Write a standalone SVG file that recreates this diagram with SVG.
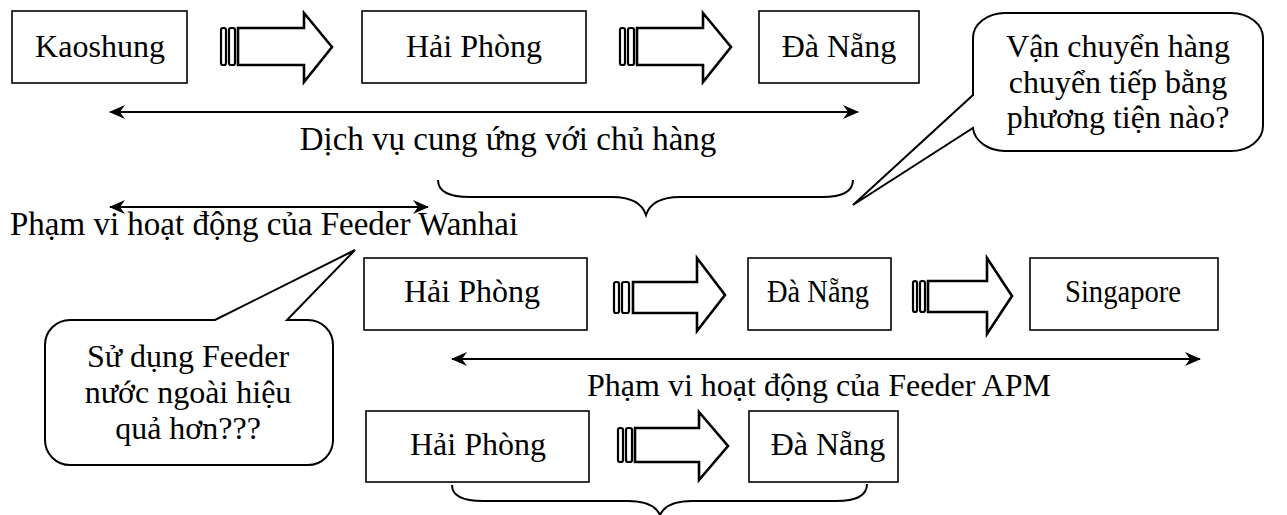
<svg xmlns="http://www.w3.org/2000/svg" width="1287" height="515" viewBox="0 0 1287 515">
  <defs>
    <style>
      .box { fill: #fff; stroke: #000; stroke-width: 1.6; }
      .lbl { font-family: "Liberation Serif", "Times New Roman", serif; font-size: 32px; fill: #000; }
      .big { font-size: 33px; }
      .narrow { font-size: 31px; }
      .mid { text-anchor: middle; }
      .stripe { fill: #fff; stroke: #000; stroke-width: 2.2; }
      .arrow { fill: #fff; stroke: #000; stroke-width: 2.6; stroke-linejoin: miter; }
      .span { fill: none; stroke: #000; stroke-width: 2; marker-start: url(#tipStart); marker-end: url(#tipEnd); }
      .brace { fill: none; stroke: #000; stroke-width: 2; }
      .callout { fill: #fff; stroke: #000; stroke-width: 2; stroke-linejoin: miter; }
    </style>
    <marker id="tipEnd" viewBox="0 0 16 14" refX="15" refY="7" markerWidth="16" markerHeight="14" markerUnits="userSpaceOnUse" orient="auto">
      <path d="M0,0 L16,7 L0,14 L5,7 Z" fill="#000"/>
    </marker>
    <marker id="tipStart" viewBox="0 0 16 14" refX="1" refY="7" markerWidth="16" markerHeight="14" markerUnits="userSpaceOnUse" orient="auto">
      <path d="M16,0 L0,7 L16,14 L11,7 Z" fill="#000"/>
    </marker>
  </defs>

  <!-- top row: Kaoshung -> Hai Phong -> Da Nang -->
  <g id="node-kaoshung">
    <rect class="box" x="12" y="11" width="175" height="72"/>
    <text class="lbl mid" x="100" y="57">Kaoshung</text>
  </g>
  <g id="node-haiphong-1">
    <rect class="box" x="362" y="11" width="224" height="72"/>
    <text class="lbl mid" x="474" y="57">Hải Phòng</text>
  </g>
  <g id="node-danang-1">
    <rect class="box" x="759" y="11" width="160" height="72"/>
    <text class="lbl mid" x="839" y="57">Đà Nẵng</text>
  </g>

  <!-- middle row: Hai Phong -> Da Nang -> Singapore -->
  <g id="node-haiphong-2">
    <rect class="box" x="364" y="258" width="223" height="72"/>
    <text class="lbl mid" x="472" y="302">Hải Phòng</text>
  </g>
  <g id="node-danang-2">
    <rect class="box" x="748" y="258" width="143" height="72"/>
    <text class="lbl narrow mid" x="818" y="302" textLength="102" lengthAdjust="spacingAndGlyphs">Đà Nẵng</text>
  </g>
  <g id="node-singapore">
    <rect class="box" x="1030" y="258" width="188" height="72"/>
    <text class="lbl narrow mid" x="1123" y="302" textLength="116" lengthAdjust="spacingAndGlyphs">Singapore</text>
  </g>

  <!-- bottom row: Hai Phong -> Da Nang -->
  <g id="node-haiphong-3">
    <rect class="box" x="366" y="411" width="223" height="71"/>
    <text class="lbl mid" x="478" y="455">Hải Phòng</text>
  </g>
  <g id="node-danang-3">
    <rect class="box" x="749" y="411" width="149" height="71"/>
    <text class="lbl mid" x="828" y="455">Đà Nẵng</text>
  </g>

  <!-- callouts -->
  <g id="callout-transfer">
    <path class="callout" d="M1005,13 L1231,13 A32,25 0 0 1 1263,38 L1263,126 A32,25 0 0 1 1231,151 L1005,151 A32,25 0 0 1 973,128 L853,205 L973,95 L973,38 A32,25 0 0 1 1005,13 Z"/>
    <text class="lbl mid" x="1118" y="57">Vận chuyển hàng</text>
    <text class="lbl mid" x="1118" y="93">chuyển tiếp bằng</text>
    <text class="lbl mid" x="1118" y="128">phương tiện nào?</text>
  </g>
  <g id="callout-foreign">
    <path class="callout" d="M70,320 L215,320 L355,250 L287,320 L308,320 A25,25 0 0 1 333,345 L333,440 A25,25 0 0 1 308,465 L70,465 A25,25 0 0 1 45,440 L45,345 A25,25 0 0 1 70,320 Z"/>
    <text class="lbl mid" x="188" y="367">Sử dụng Feeder</text>
    <text class="lbl mid" x="188" y="403">nước ngoài hiệu</text>
    <text class="lbl mid" x="188" y="439">quả hơn???</text>
  </g>

  <!-- free labels -->
  <g id="label-service">
    <text class="lbl big mid" x="508" y="150">Dịch vụ cung ứng với chủ hàng</text>
  </g>
  <g id="label-wanhai">
    <text class="lbl big" x="10" y="235">Phạm vi hoạt động của Feeder Wanhai</text>
  </g>
  <g id="label-apm">
    <text class="lbl" x="587" y="396">Phạm vi hoạt động của Feeder APM</text>
  </g>

  <!-- connectors: striped block arrows, range arrows, braces -->
  <g id="connectors">
    <g id="flow-kaoshung-haiphong">
      <rect class="stripe" x="221" y="28" width="5" height="37" rx="2"/>
      <rect class="stripe" x="229" y="28" width="6" height="37" rx="2"/>
      <polygon class="arrow" points="238,28 304,28 304,13 332,47 304,82 304,65 238,65"/>
    </g>
    <g id="flow-haiphong-danang-1">
      <rect class="stripe" x="620" y="28" width="5" height="37" rx="2"/>
      <rect class="stripe" x="628" y="28" width="6" height="37" rx="2"/>
      <polygon class="arrow" points="637,28 703,28 703,13 731,47 703,82 703,65 637,65"/>
    </g>
    <g id="flow-haiphong-danang-2">
      <rect class="stripe" x="614" y="282" width="5" height="31" rx="2"/>
      <rect class="stripe" x="622" y="282" width="7" height="31" rx="2"/>
      <polygon class="arrow" points="633,282 697,282 697,258 725,295 697,331 697,313 633,313"/>
    </g>
    <g id="flow-danang-singapore">
      <rect class="stripe" x="913" y="281" width="4" height="31" rx="2"/>
      <rect class="stripe" x="920" y="281" width="5" height="31" rx="2"/>
      <polygon class="arrow" points="928,281 987,281 987,258 1012,296 987,334 987,312 928,312"/>
    </g>
    <g id="flow-haiphong-danang-3">
      <rect class="stripe" x="618" y="428" width="5" height="34" rx="2"/>
      <rect class="stripe" x="626" y="428" width="6" height="34" rx="2"/>
      <polygon class="arrow" points="635,428 699,428 699,412 728,446 699,480 699,462 635,462"/>
    </g>

    <line id="span-service" class="span" x1="110" y1="112" x2="858" y2="112"/>
    <line id="span-wanhai" class="span" x1="110" y1="207" x2="428" y2="207"/>
    <line id="span-apm" class="span" x1="452" y1="359" x2="1200" y2="359"/>

    <path id="brace-top" class="brace" d="M438,180 C438,192 450,197 470,197 L612,197 C630,197 642,203 646,215 C650,203 662,197 680,197 L822,197 C842,197 853,192 853,180"/>
    <path id="brace-bottom" class="brace" d="M452,485 C452,496 463,501 483,501 L628,501 C645,501 656,506 660,515 C664,506 675,501 692,501 L836,501 C856,501 867,496 867,484"/>
  </g>
</svg>
